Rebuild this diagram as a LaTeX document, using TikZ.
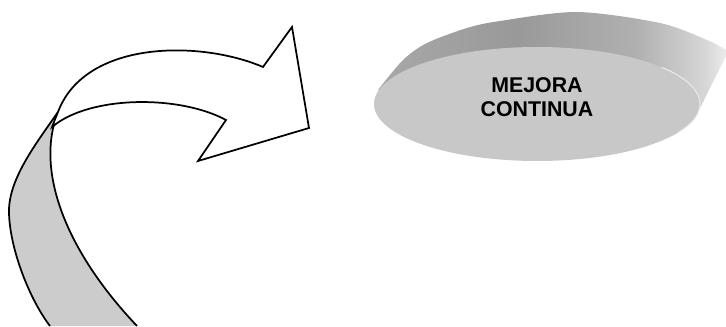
\documentclass[tikz,border=0pt]{standalone}
\usepackage{fontspec}
\setmainfont{Liberation Sans}
\usetikzlibrary{shapes.geometric, positioning, calc}
\definecolor{ribbongray}{RGB}{204, 204, 204}
\definecolor{diskgray}{RGB}{200, 200, 200}
\pgfdeclarehorizontalshading{bandshade}{100bp}{color(0bp)=(black!34); color(25bp)=(black!34);
    color(45bp)=(black!40); color(62bp)=(black!31); color(72bp)=(black!16); color(75bp)=(black!8); color(100bp)=(black!8)}

\begin{document}
\begin{tikzpicture}[
    x=0.75pt, y=0.75pt,
    ribbon/.style={draw=black, line width=1.3pt, line join=miter},
    ribbonback/.style={fill=ribbongray},
    band/.style={shading=bandshade},
    disk/.style={ellipse, fill=diskgray, minimum width=244.5pt, minimum height=85.5pt, inner sep=0pt},
    disktext/.style={font=\fontsize{16}{18}\selectfont\bfseries, align=center}
]
\useasboundingbox (0,0) rectangle (726,326);

% Ribbon, back side
\fill[ribbonback] (58,214) .. controls (35,181) and (8,146) .. (9,113)
    .. controls (10,76) and (30,26) .. (50,0) -- (137,0)
    .. controls (65,76) and (35,156) .. (58,214) -- cycle;
\draw[ribbon] (58,214) .. controls (35,181) and (8,146) .. (9,113)
    .. controls (10,76) and (30,26) .. (50,0);
\draw[ribbon] (137,0) .. controls (65,76) and (35,156) .. (58,214);

% Ribbon, front side with the head
\draw[ribbon, fill=white] (58,214) .. controls (85,286) and (200,286) .. (263,259)
    -- (292,299) -- (309,198) -- (198,165) -- (226,206)
    .. controls (180,231) and (90,231) .. (52,199) -- cycle;

% Disk
\shade[band] plot[smooth] coordinates {(378,236) (403,266) (427,283) (467,298) (500,305)
    (577,314) (660,303) (707,286) (726,276)} -- (726,270) -- (694,206) -- (540,200) -- cycle;
\node[disk] (disk) at (537,222) {};
\draw[diskgray!40!white, line width=0.8pt]
    ([shift={(-30:163 and 57)}]disk.center) arc[start angle=-30, end angle=40, x radius=163, y radius=57];
\node[disktext] (title) at ([yshift=5.25pt]disk.center) {MEJORA\\CONTINUA};

\end{tikzpicture}
\end{document}
